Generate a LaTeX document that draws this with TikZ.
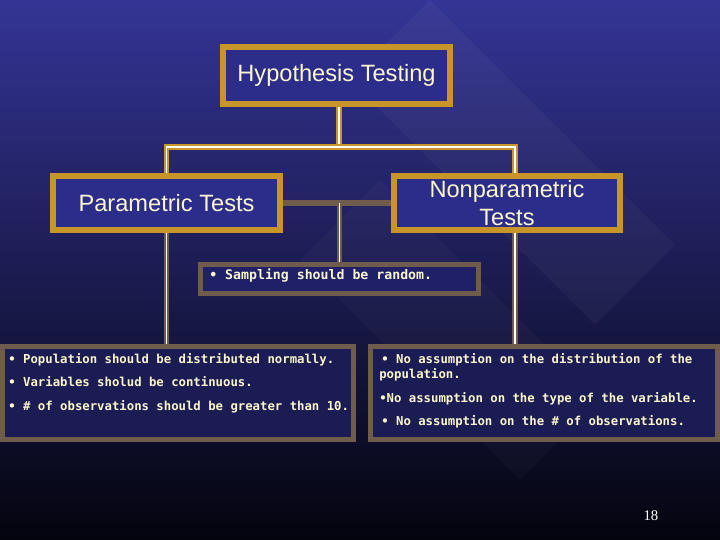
\documentclass[tikz,border=0pt]{standalone}
\usepackage{fontspec}
\setmainfont{Liberation Sans}
\newfontfamily\itemfont{DejaVu Sans Mono}
\newfontfamily\numfont{Liberation Serif}
\usetikzlibrary{positioning, calc}
\definecolor{slidegold}{RGB}{200,150,40}
\definecolor{slidebrown}{RGB}{112,92,76}
\definecolor{cream}{RGB}{250,246,205}
\definecolor{bgtop}{RGB}{52,52,150}
\definecolor{bgmid}{RGB}{36,36,118}
\definecolor{bgbottom}{RGB}{4,4,14}
\definecolor{boxblue}{RGB}{44,44,138}
\definecolor{sampnavy}{RGB}{32,32,104}
\definecolor{boxnavy}{RGB}{28,28,84}

\begin{document}
\begin{tikzpicture}
    [
        x=0.025cm, y=-0.025cm,
        gold_node/.style={rectangle, draw=slidegold, fill=boxblue, line width=4.2pt, text=cream, font=\fontsize{16.8}{20}\selectfont, align=center, inner sep=0pt},
        brown_node/.style={rectangle, draw=slidebrown, fill=boxnavy, line width=3.6pt, inner sep=0pt},
        item_text/.style={anchor=base west, text=cream, inner sep=0pt, font=\itemfont\fontsize{8.75}{10}\bfseries\selectfont},
        gold_line/.style={draw=slidegold, line width=4pt, postaction={draw=white, line width=1pt}},
        brown_line/.style={draw=slidebrown, line width=4pt, postaction={draw=white, line width=1pt}},
    ]

  % background
  \shade[top color=bgtop, middle color=bgmid, bottom color=bgbottom] (0,0) rectangle (720,540);
  \fill[white, opacity=0.035] (430,0) -- (675,245) -- (595,325) -- (350,80) -- cycle;
  \fill[white, opacity=0.025] (300,260) -- (380,180) -- (600,400) -- (520,480) -- cycle;

  \node[gold_node, minimum width=5.675cm, minimum height=1.425cm] (hyp) at (336.5,75.5) {Hypothesis Testing};
  \node[gold_node, minimum width=5.675cm, minimum height=1.35cm] (param) at (166.5,203) {Parametric Tests};
  \node[gold_node, minimum width=5.65cm, minimum height=1.35cm] (nonparam) at (507,203) {Nonparametric\\Tests};
  \node[brown_node, fill=sampnavy, minimum width=6.95cm, minimum height=0.725cm] (samp) at (339.5,279) {};
  \node[brown_node, minimum width=8.775cm, minimum height=2.325cm] (lbox) at (178,393) {};
  \node[brown_node, minimum width=8.675cm, minimum height=2.325cm] (rbox) at (544,393) {};

  \coordinate (top_split) at (339,147);
  \draw[gold_line] (top_split |- hyp.south) -- (top_split);
  \draw[gold_line] (param.north) |- (top_split) -| ([xshift=0.2cm]nonparam.north);
  \draw[draw=slidebrown, line width=4pt] (param.east) -- (nonparam.west);
  \draw[brown_line] (samp.north |- param.east) -- (samp.north);
  \draw[brown_line] (param.south) -- (param.south |- lbox.north);
  \draw[brown_line] ([xshift=0.2cm]nonparam.south) -- ([xshift=0.2cm]nonparam.south |- rbox.north);

  \node[item_text, font=\itemfont\fontsize{9.4}{11}\bfseries\selectfont] (s1) at (209,280) {\textbullet{} Sampling should be random.};

  \node[item_text] (p1) at (8,364) {\textbullet{} Population should be distributed normally.};
  \node[item_text] (p2) at (8,387) {\textbullet{} Variables sholud be continuous.};
  \node[item_text] (p3) at (8,411) {\textbullet{} \# of observations should be greater than 10.};

  \node[item_text] (n1) at (381,364) {\textbullet{} No assumption on the distribution of the};
  \node[item_text] (n1b) at (379,379) {population.};
  \node[item_text] (n2) at (379,403) {\textbullet{}No assumption on the type of the variable.};
  \node[item_text] (n3) at (381,426) {\textbullet{} No assumption on the \# of observations.};

  \node[text=white, font=\numfont\fontsize{10.5}{12}\selectfont] (pagenum) at (651,516) {18};
\end{tikzpicture}
\end{document}
